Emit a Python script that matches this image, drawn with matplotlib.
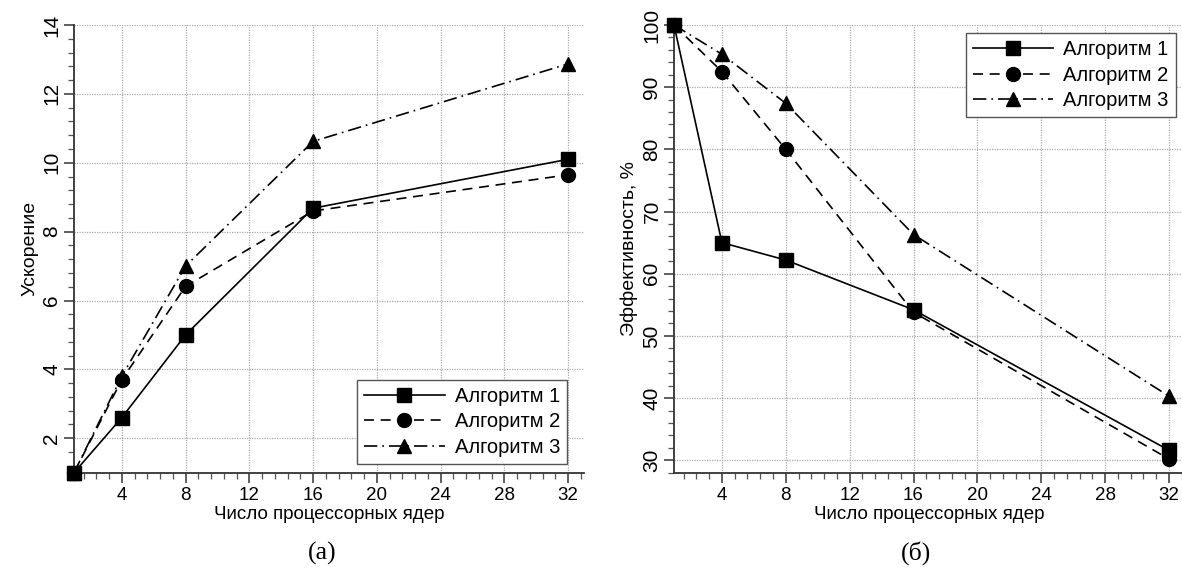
import numpy as np
import matplotlib.pyplot as plt
from matplotlib.ticker import MultipleLocator

plt.rcParams['font.family'] = ['Liberation Sans', 'DejaVu Sans']

# number of cores
cores = [1, 4, 8, 16, 32]

# speedup
speed_1 = [1.0, 2.6, 5.0, 8.68, 10.1]
speed_2 = [1.0, 3.7, 6.41, 8.6, 9.65]
speed_3 = [1.0, 3.8, 7.0, 10.62, 12.87]

# efficiency, %
eff_1 = [100, 65.0, 62.2, 54.2, 31.6]
eff_2 = [100, 92.5, 80.0, 53.8, 30.2]
eff_3 = [100, 95.3, 87.4, 66.3, 40.3]

labels = ["Алгоритм 1", "Алгоритм 2", "Алгоритм 3"]
styles = [("-", "s"), ((0, (6, 4)), "o"), ((0, (8, 3, 1, 3)), "^")]

fig = plt.figure(figsize=(11.82, 5.69), dpi=100)
ax1 = fig.add_axes([74/1182, 1-472.7/569, 510/1182, 447.7/569])
ax2 = fig.add_axes([674/1182, 1-472.7/569, 511/1182, 447.7/569])


def style_axes(ax, ymin, ymax, ymaj, ylabel):
    ax.set_xlim(1, 33)
    ax.set_ylim(ymin, ymax)
    ax.xaxis.set_major_locator(MultipleLocator(4))
    ax.xaxis.set_minor_locator(MultipleLocator(0.8))
    ax.yaxis.set_major_locator(MultipleLocator(ymaj))
    ax.yaxis.set_minor_locator(MultipleLocator(ymaj / 5))
    ax.set_xticks([4, 8, 12, 16, 20, 24, 28, 32])
    ax.spines['top'].set_visible(False)
    ax.spines['right'].set_visible(False)
    for s in ['left', 'bottom']:
        ax.spines[s].set_linewidth(1.3)
        ax.spines[s].set_color('#333333')
    ax.tick_params(which='major', length=7, width=1.1, color='#333333', labelsize=13.5)
    ax.tick_params(which='minor', length=4, width=0.9, color='#555555')
    ax.tick_params(axis='y', labelsize=15, pad=2)
    for t in ax.get_yticklabels():
        t.set_rotation(90)
        t.set_va('center')
    ax.grid(True, which='major', linestyle=(0, (1, 1)), color='#aaaaaa', linewidth=0.9)
    ax.set_axisbelow(True)
    ax.set_xlabel("Число процессорных ядер", fontsize=13.5, labelpad=1)
    ax.set_ylabel(ylabel, fontsize=14, labelpad=3)


for ax, series in [(ax1, [speed_1, speed_2, speed_3]), (ax2, [eff_1, eff_2, eff_3])]:
    for vals, lab, (ls, mk) in zip(series, labels, styles):
        ax.plot(cores, vals, linestyle=ls, marker=mk, color='black', linewidth=1.2,
                markersize=10, label=lab, clip_on=False, zorder=3)

style_axes(ax1, 1, 14, 2, "Ускорение")
style_axes(ax2, 28, 100, 10, "Эффективность, %")

leg_kw = dict(fontsize=14.5, fancybox=False, framealpha=1, edgecolor='#555555',
              handlelength=4.0, handletextpad=0.5, borderpad=0.35, labelspacing=0.33,
              borderaxespad=0)
l1 = ax1.legend(loc='lower right', bbox_to_anchor=(0.967, 0.019), **leg_kw)
l2 = ax2.legend(loc='upper right', bbox_to_anchor=(0.982, 0.982), **leg_kw)

fig.text(322/1182, 1-553/569, "(а)", fontsize=18.5, family='Liberation Serif', ha='center', va='center')
fig.text(916/1182, 1-553/569, "(б)", fontsize=18.5, family='Liberation Serif', ha='center', va='center')

fig.savefig("out.png", dpi=100)
